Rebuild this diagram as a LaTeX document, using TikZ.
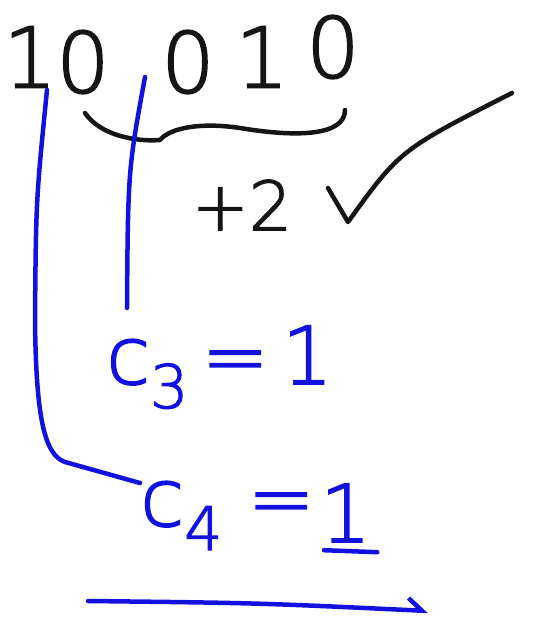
\documentclass[tikz,border=0pt]{standalone}
\usepackage{fontspec}
\newfontfamily\penfont[FakeBold=2]{DejaVu Sans ExtraLight}
\usetikzlibrary{arrows.meta,positioning}
\definecolor{inkblack}{HTML}{151515}
\definecolor{inkblue}{HTML}{1212E0}
\newcommand\lowidx[1]{\raisebox{-0.3em}{\scalebox{0.75}{#1}}}

\begin{document}
\begin{tikzpicture}[
  x=1pt, y=-1pt,
  bit/.style={inner sep=0pt, text=inkblack, font=\penfont\fontsize{84}{84}\selectfont},
  note/.style={inner sep=0pt, text=inkblack, font=\penfont\fontsize{68}{68}\selectfont},
  carry/.style={inner sep=0pt, text=inkblue, font=\penfont\fontsize{80}{80}\selectfont},
  pen/.style={line width=4.5pt, line cap=round, line join=round, draw=inkblack},
  bluepen/.style={pen, draw=inkblue}
]
\useasboundingbox (0,0) rectangle (540,626);

% the number
\node[bit] (b1) at (30,57) {1};
\node[bit] (b2) at (83,62) {0};
\node[bit] (b3) at (188,62) {0};
\node[bit] (b4) at (262,57) {1};
\node[bit] (b5) at (333,47) {0};

% brace under the last three bits, and the check
\draw[pen] (85,113) .. controls (100,135) and (135,142) .. (160,140)
  .. controls (170,128) and (200,122) .. (240,128)
  .. controls (300,138) and (345,135) .. (345,110);
\node[note] (plus) at (242,205) {+2};
\draw[pen] (328,188) -- (348,222) .. controls (400,150) .. (512,93);

% carries
\node[carry, anchor=base west] (c3) at (106,384) {c\lowidx{3}\,=\,1};
\node[carry, anchor=base west] (c4) at (140,526) {c\lowidx{4} =};
\node[carry, anchor=base west] (c4val) at (320,542) {1};
\draw[bluepen] ([xshift=4pt,yshift=-8pt]c4val.south west) -- ([xshift=6pt,yshift=-10pt]c4val.south east);

\coordinate (top1) at (47,90);
\coordinate (top2) at (145,77);
\coordinate (c3tip) at (127,308);
\draw[bluepen] (top1) .. controls (36,200) .. (35,320)
  .. controls (36,420) and (45,455) .. (65,462) -- ([yshift=-2pt]c4.north west);
\draw[bluepen] (top2) .. controls (128,170) .. (c3tip);

% result arrow
\coordinate (res1) at (88,601);
\coordinate (res2) at (428,611);
\draw[bluepen, -{Straight Barb[left, length=14pt, width=24pt]}] (res1) .. controls (260,603) .. (res2);
\end{tikzpicture}
\end{document}
